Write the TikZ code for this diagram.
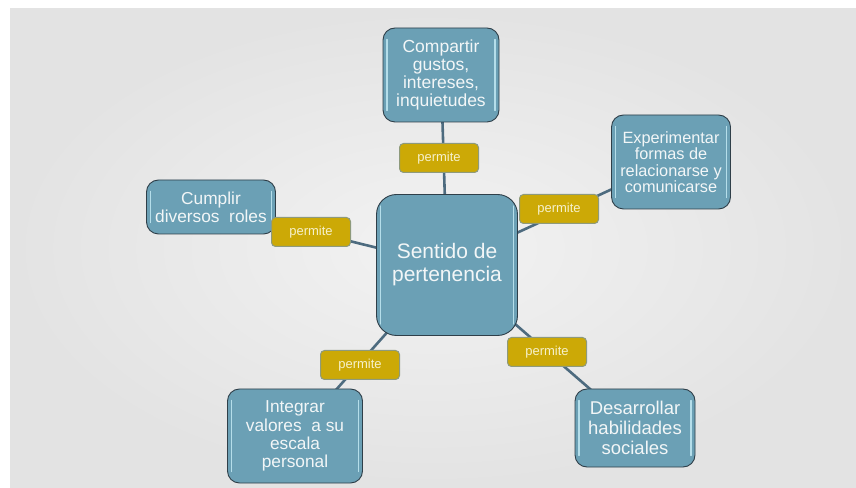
\documentclass[tikz,border=0pt]{standalone}
\usepackage{fontspec}
\setmainfont{Liberation Sans}
\pgfdeclarelayer{back}
\pgfdeclarelayer{lines}
\pgfsetlayers{back,lines,main}
\definecolor{boxfill}{HTML}{6BA0B5}
\definecolor{boxedge}{HTML}{2F3F49}
\definecolor{hlcol}{HTML}{C8EEF8}
\definecolor{linecol}{HTML}{4D6B7F}
\definecolor{pfill}{HTML}{CCA906}
\definecolor{pedge}{HTML}{8E9A7C}
\definecolor{ptext}{HTML}{F6F1CC}
\definecolor{txt}{HTML}{F2F6F7}
\tikzset{
  topic/.style={draw=boxedge, line width=0.9pt, fill=boxfill, rounded corners=12pt,
    text=txt, align=center, inner sep=2pt},
  permitebox/.style={draw=pedge, line width=1pt, fill=pfill, rounded corners=4pt,
    text=ptext, font=\fontsize{13}{14}\selectfont, minimum width=79pt, minimum height=29pt, inner sep=0pt},
  conn/.style={draw=linecol, line width=2.6pt},
  hl/.style={draw=hlcol, line width=1.4pt, opacity=0.8, line cap=round}
}
\newcommand{\boxhl}[1]{%
  \draw[hl] ([xshift=4.5pt,yshift=-12pt]#1.north west) -- ([xshift=4.5pt,yshift=12pt]#1.south west);
  \draw[hl] ([xshift=-4.5pt,yshift=-12pt]#1.north east) -- ([xshift=-4.5pt,yshift=12pt]#1.south east);
}
\begin{document}
\begin{tikzpicture}[x=1pt,y=1pt]
\useasboundingbox (0,0) rectangle (856,487);
\begin{pgfonlayer}{back}
  \fill[white] (0,0) rectangle (856,487);
  \shade[inner color=gray!10, outer color=gray!22] (10,0) rectangle (856,478);
\end{pgfonlayer}

\node[topic, minimum width=116pt, minimum height=94pt, font=\fontsize{17.5}{18}\selectfont] (comp) at (441,412) {Compartir\\gustos,\\intereses,\\inquietudes};
\node[topic, minimum width=141pt, minimum height=141pt, rounded corners=20pt, font=\fontsize{21}{23}\selectfont] (cen) at (447,222) {Sentido de\\pertenencia};
\node[topic, minimum width=119pt, minimum height=94pt, font=\fontsize{16.3}{16.5}\selectfont] (exp) at (671,325) {Experimentar\\formas de\\relacionarse y\\comunicarse};
\node[topic, minimum width=129pt, minimum height=54pt, font=\fontsize{17.3}{18}\selectfont] (cum) at (211,280) {Cumplir\\diversos\ \ roles};
\node[topic, minimum width=120pt, minimum height=78pt, font=\fontsize{18.5}{20}\selectfont] (des) at (635,59) {Desarrollar\\habilidades\\sociales};
\node[topic, minimum width=135pt, minimum height=94pt, font=\fontsize{17.3}{18.3}\selectfont] (int) at (295,51) {Integrar\\valores\ \ a su\\escala\\personal};

\foreach \b in {comp,cen,exp,cum,des,int}{\boxhl{\b}}

\node[permitebox] (p1) at (439,329) {permite};
\node[permitebox] (p2) at (559,278) {permite};
\node[permitebox] (p3) at (311,255) {permite};
\node[permitebox] (p4) at (547,135) {permite};
\node[permitebox] (p5) at (360,122) {permite};

\begin{pgfonlayer}{lines}
  \draw[conn] (cen.center) -- (comp.center);
  \draw[conn] (cen.center) -- (exp.center);
  \draw[conn] (cen.center) -- (cum.center);
  \draw[conn] (cen.center) -- (des.center);
  \draw[conn] (cen.center) -- (int.center);
\end{pgfonlayer}
\end{tikzpicture}
\end{document}
